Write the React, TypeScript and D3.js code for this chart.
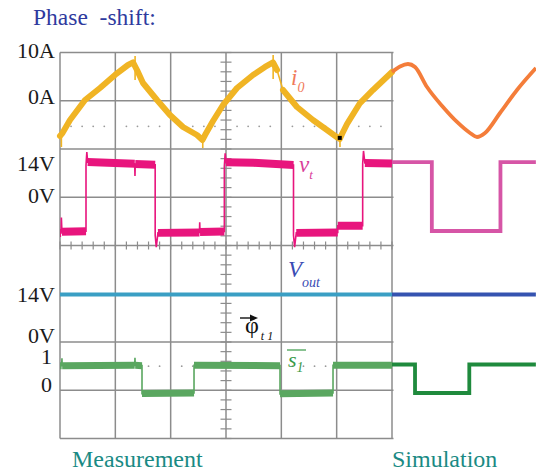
import React from 'react';
import * as d3 from 'd3';

const W = 536;
const H = 472;

// scope grid: 6 x 8 divisions, time in divisions (simulation continues to 8.6)
const gridCols = d3.range(0, 7);
const gridRows = d3.range(0, 9);
const dottedRows = [1.53, 6.5];

// i0 measurement [div, A]
const i0Meas: [number, number][] = [
  [0, -7.31], [0.045, -6.7], [0.181, -3.99], [0.452, 0.16], [0.723, 2.64], [0.994, 5.34],
  [1.229, 7.41], [1.32, 7.95], [1.392, 6.37], [1.5, 3.68], [1.753, 0.16], [1.988, -2.95],
  [2.223, -5.44], [2.476, -7.1], [2.575, -8.13], [2.621, -7.1], [2.765, -4.2], [2.946, -0.88],
  [3.199, 2.64], [3.488, 5.34], [3.705, 7.0], [3.85, 7.93], [3.922, 6.37], [4.03, 2.23],
  [4.283, -1.3], [4.572, -3.99], [4.825, -6.06], [5.024, -7.72], [5.056, -7.93], [5.097, -6.89],
  [5.187, -4.82], [5.422, -0.47], [5.657, 2.23], [6.0, 5.96],
];
// i0 switching spikes [div, from A, to A]
const i0Spikes: [number, number, number][] = [
  [0.025, -6.5, -9.6], [1.357, 9.3, 4.3], [2.58, -7.5, -9.8], [3.852, 9.5, 4.5], [5.06, -7.4, -9.6],
];
// i0 simulation
const i0Sim: [number, number][] = [
  [6.0, 5.96], [6.145, 7.1], [6.289, 7.62], [6.416, 7.0], [6.633, 2.85], [6.922, -1.3],
  [7.175, -4.4], [7.41, -6.68], [7.536, -7.51], [7.681, -6.68], [7.952, -2.54], [8.259, 2.23],
  [8.602, 6.79],
];

// vt measurement [div, V]
const vtMeas: [number, number][] = [
  [0, -15], [0.02, -15], [0.025, -8.5], [0.035, -14.5], [0.47, -14.3],
  [0.47, 13.5], [0.485, 19], [0.5, 14.8], [1.35, 14.1], [1.355, 9], [1.36, 14.0], [1.72, 13.7],
  [1.72, -16], [1.74, -21], [1.77, -15], [2.52, -14.8], [2.525, -10.5], [2.53, -14.6], [2.97, -14.4],
  [2.97, 13], [2.985, 18.5], [3.0, 14.7], [3.5, 14.5], [4.22, 13.6],
  [4.22, -16], [4.24, -21], [4.27, -15], [5.02, -14.8], [5.02, -12], [5.47, -12],
  [5.47, 14], [5.485, 19.5], [5.51, 14.4], [6.0, 14.2],
];
const vtSim: [number, number][] = [
  [6.0, 14.8], [6.72, 14.8], [6.72, -14.2], [7.96, -14.2], [7.96, 14.8], [8.6, 14.8],
];

// Vout [div, V]
const voutMeas: [number, number][] = [[0, 14], [6, 14]];
const voutSim: [number, number][] = [[6, 14], [8.6, 14]];

// s1 gate signal [div, level]
const s1Meas: [number, number][] = [
  [0, 0.96], [0.03, 0.96], [0.035, 1.22], [0.04, 0.96], [1.35, 0.97], [1.355, 1.24], [1.36, 0.97],
  [1.482, 0.96], [1.482, -0.02], [2.422, 0.0], [2.422, 0.97], [3.976, 0.96], [3.976, -0.03],
  [4.934, 0.0], [4.934, 0.97], [6.0, 0.97],
];
const s1Sim: [number, number][] = [
  [6.0, 1.0], [6.416, 1.0], [6.416, 0.0], [7.397, 0.0], [7.397, 1.0], [8.6, 1.0],
];

const i0Ticks = [{ v: 10, t: '10A' }, { v: 0, t: '0A' }];
const vtTicks = [{ v: 14, t: '14V' }, { v: 0, t: '0V' }];
const voutTicks = [{ v: 14, t: '14V' }, { v: 0, t: '0V' }];
const s1Ticks = [{ v: 1, t: '1' }, { v: 0, t: '0' }];

const serif = '"Liberation Serif", "Times New Roman", serif';

const x = d3.scaleLinear().domain([0, 6]).range([60, 392]);
const yDiv = d3.scaleLinear().domain([0, 8]).range([52.5, 438.5]);
const yI = d3.scaleLinear().domain([0, 10]).range([yDiv(1), yDiv(0)]);
const yVt = d3.scaleLinear().domain([0, 14]).range([yDiv(3), 164]);
const yVout = d3.scaleLinear().domain([0, 14]).range([yDiv(6), 294.5]);
const yS = d3.scaleLinear().domain([0, 1]).range([393, 364.5]);

type Pt = [number, number];

// split a noisy trace into its "flat" runs (drawn thick) - steep edges stay thin
function flatRuns(pts: Pt[], ys: d3.ScaleLinear<number, number>) {
  const runs: Pt[][] = [];
  let cur: Pt[] = [];
  for (let k = 0; k < pts.length - 1; k++) {
    const dx = Math.abs(x(pts[k + 1][0]) - x(pts[k][0]));
    const dy = Math.abs(ys(pts[k + 1][1]) - ys(pts[k][1]));
    const steep = dy > 2.5 * dx && dy > 1.5;
    if (!steep) {
      if (!cur.length) cur.push(pts[k]);
      cur.push(pts[k + 1]);
    } else if (cur.length) {
      runs.push(cur);
      cur = [];
    }
  }
  if (cur.length) runs.push(cur);
  return runs;
}

const Noisy = ({ pts, ys, color, band, cap }: { pts: Pt[]; ys: d3.ScaleLinear<number, number>; color: string; band: number; cap: string }) => {
  const line = d3.line<Pt>().x(d => x(d[0])).y(d => ys(d[1]));
  return (
    <g>
      <path d={line(pts) || ''} fill="none" stroke={color} strokeWidth={1.6} />
      {flatRuns(pts, ys).map((r, i) => (
        <path key={i} d={line(r) || ''} fill="none" stroke={color} strokeWidth={band}
          strokeLinejoin="round" strokeLinecap={cap as any} />
      ))}
    </g>
  );
};

const Sim = ({ pts, ys, color, curve }: { pts: Pt[]; ys: d3.ScaleLinear<number, number>; color: string; curve?: boolean }) => {
  const line = d3.line<Pt>().x(d => x(d[0])).y(d => ys(d[1]));
  if (curve) line.curve(d3.curveMonotoneX);
  return <path d={line(pts) || ''} fill="none" stroke={color} strokeWidth={3.8} strokeLinejoin="miter" />;
};

const TickLabels = ({ ticks, ys, dy, ax = 55 }: { ticks: { v: number; t: string }[]; ys: d3.ScaleLinear<number, number>; dy: number[]; ax?: number }) => (
  <g>
    {ticks.map((d, i) => (
      <text key={d.t + d.v} x={ax} y={ys(d.v) + dy[i]} textAnchor="end" fontSize={22} fill="#1a1a1a">{d.t}</text>
    ))}
  </g>
);

const App = () => {
  const gridColor = '#8c8c8c';
  const minorX = d3.range(0, 31).map(k => k / 5);
  const minorY = d3.range(0, 41).map(k => k / 5);
  const dots = d3.range(1, 30).filter(k => k % 5 !== 0).map(k => k / 5);

  return (
    <svg width={W} height={H} viewBox={`0 0 ${W} ${H}`} fontFamily={serif}
      style={{ position: 'absolute', left: 0, top: 0, background: '#fff' }}>
      {/* grid */}
      <g stroke={gridColor} strokeWidth={1.5}>
        {gridCols.map(c => <line key={'c' + c} x1={x(c)} x2={x(c)} y1={yDiv(0)} y2={yDiv(8)} />)}
        {gridRows.map(r => <line key={'r' + r} x1={x(0)} x2={x(6) + 1.5} y1={yDiv(r)} y2={yDiv(r)} />)}
      </g>
      <g stroke={gridColor} strokeWidth={1.2}>
        {minorY.map(v => <line key={'my' + v} x1={x(3) - 5.5} x2={x(3) + 5.5} y1={yDiv(v)} y2={yDiv(v)} />)}
        {minorX.map(v => <line key={'mx' + v} x1={x(v)} x2={x(v)} y1={yDiv(4) - 4} y2={yDiv(4) + 4} />)}
      </g>
      <g fill="#9a9a9a">
        {dottedRows.map(r => dots.map(v => <circle key={r + '-' + v} cx={x(v)} cy={yDiv(r)} r={0.9} />))}
      </g>

      {/* measurement traces */}
      <Noisy pts={i0Meas} ys={yI} color="#f0b424" band={6} cap="round" />
      <g stroke="#f0b424" strokeWidth={1.6}>
        {i0Spikes.map((s, i) => <line key={i} x1={x(s[0])} x2={x(s[0])} y1={yI(s[1])} y2={yI(s[2])} />)}
      </g>
      <Noisy pts={vtMeas} ys={yVt} color="#e8157d" band={8} cap="butt" />
      <path d={d3.line<Pt>().x(d => x(d[0])).y(d => yVout(d[1]))(voutMeas) || ''} stroke="#3a9fc4" strokeWidth={4} fill="none" />
      <Noisy pts={s1Meas} ys={yS} color="#5aa760" band={7} cap="butt" />
      <rect x={x(5.056) - 2} y={yI(-7.7) - 2} width={4} height={4} fill="#000" />

      {/* simulation traces */}
      <Sim pts={i0Sim} ys={yI} color="#f47d3a" curve />
      <Sim pts={vtSim} ys={yVt} color="#d655a6" />
      <Sim pts={voutSim} ys={yVout} color="#3553b0" />
      <Sim pts={s1Sim} ys={yS} color="#1f8a3d" />

      {/* axis labels */}
      <TickLabels ticks={i0Ticks} ys={yI} dy={[5, 3]} />
      <TickLabels ticks={vtTicks} ys={yVt} dy={[6.5, 5.5]} />
      <TickLabels ticks={voutTicks} ys={yVout} dy={[7.5, 0.5]} />
      <TickLabels ticks={s1Ticks} ys={yS} dy={[-1, -1]} ax={52} />

      {/* trace names */}
      <text x={291} y={85} fontSize={23} fontStyle="italic" fill="#f07a5a">i<tspan fontSize={14} dy={7}>0</tspan></text>
      <text x={299} y={172} fontSize={23} fontStyle="italic" fill="#d9409a">v<tspan fontSize={13} dy={7}>t</tspan></text>
      <text x={288} y={277} fontSize={23} fontStyle="italic" fill="#3a4cb4">V<tspan fontSize={14} dy={10}>out</tspan></text>
      <g fill="#3a9a48">
        <text x={288} y={367} fontSize={22} fontStyle="italic">s<tspan fontSize={14} dy={5}>1</tspan></text>
        <line x1={287} x2={306} y1={350} y2={350} stroke="#3a9a48" strokeWidth={1.2} />
      </g>
      <g>
        <line x1={240} x2={252} y1={318} y2={318} stroke="#111" strokeWidth={1.4} />
        <path d="M258,318 L250,314.5 L250,321.5 Z" fill="#111" />
        <text x={245} y={333} fontSize={24} fill="#111">φ<tspan fontSize={12} fontStyle="italic" dy={7} dx={2}>t 1</tspan></text>
      </g>

      {/* titles */}
      <text x={33} y={25} fontSize={23.5} fill="#2e3a9e" style={{ whiteSpace: 'pre' }}>Phase  -shift:</text>
      <text x={72} y={467} fontSize={24} fill="#1a8a84">Measurement</text>
      <text x={392} y={467} fontSize={24} fill="#1a8a84">Simulation</text>
    </svg>
  );
};

export default App;
